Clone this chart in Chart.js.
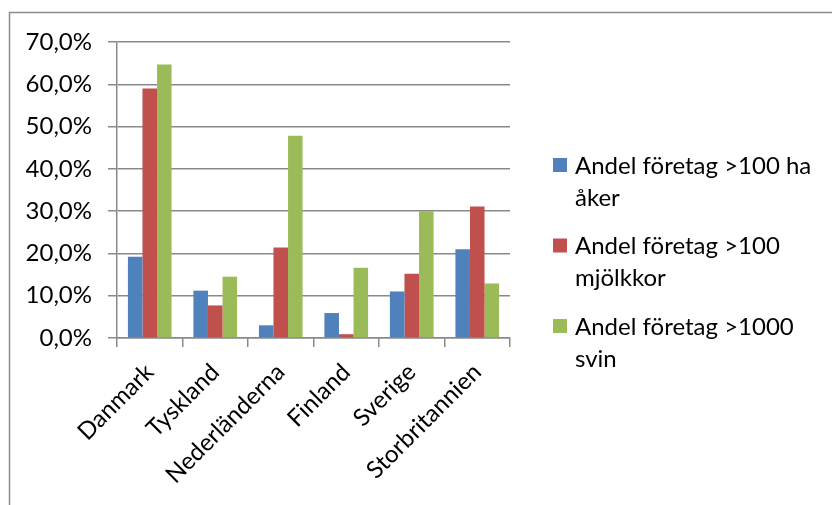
<!DOCTYPE html>
<html>
<head>
<meta charset="utf-8">
<script src="https://cdn.jsdelivr.net/npm/chart.js@4/dist/chart.umd.min.js"></script>
<style>
  html, body { margin: 0; padding: 0; background: #fff; }
  #wrap { width: 832px; height: 505px; }
</style>
</head>
<body>
<div id="wrap"><canvas id="myChart"></canvas></div>
<script>
const countries = ['Danmark', 'Tyskland', 'Nederländerna', 'Finland', 'Sverige', 'Storbritannien'];
const akerShare = [19.2, 11.2, 3.0, 5.9, 11.0, 21.0];
const mjolkShare = [59.0, 7.7, 21.4, 0.9, 15.2, 31.1];
const svinShare = [64.7, 14.5, 47.8, 16.6, 30.0, 12.9];
const seriesNames = [
    ['Andel företag >100 ha', 'åker'],
    ['Andel företag >100', 'mjölkkor'],
    ['Andel företag >1000', 'svin']
];
const yTicks = [0, 10, 20, 30, 40, 50, 60, 70];

const gridc = '#898989';
const font = 'Lato';

// frame round the whole chart, like the Excel chart area
const framePlugin = {
    id: 'frame',
    beforeDraw(chart) {
        const c = chart.ctx;
        c.save();
        c.strokeStyle = '#8c8c8c';
        c.lineWidth = 1.5;
        c.strokeRect(9.5, 12.5, 1000, 1000);
        c.restore();
    }
};

// legend with wrapped labels on the right
const sideLegend = {
    id: 'sideLegend',
    afterDraw(chart) {
        const c = chart.ctx;
        c.save();
        c.font = '24px ' + font;
        c.textBaseline = 'middle';
        chart.data.datasets.forEach((ds, i) => {
            const y = 165 + i * 80.5;
            c.fillStyle = ds.backgroundColor;
            c.fillRect(553, y - 7, 14, 14);
            c.fillStyle = '#000';
            ds.label.forEach((line, j) => {
                c.fillText(line, 575, y + 1 + j * 32);
            });
        });
        c.restore();
    }
};

new Chart(document.getElementById('myChart'), {
    type: 'bar',
    data: {
        labels: countries,
        datasets: [
            { label: seriesNames[0], data: akerShare, backgroundColor: '#4F81BD' },
            { label: seriesNames[1], data: mjolkShare, backgroundColor: '#C0504D' },
            { label: seriesNames[2], data: svinShare, backgroundColor: '#9BBB59' }
        ]
    },
    plugins: [framePlugin, sideLegend],
    options: {
        responsive: true,
        maintainAspectRatio: false,
        animation: false,
        layout: { padding: { left: 0, right: 322, top: 42, bottom: 0 } },
        datasets: {
            bar: { categoryPercentage: 0.667, barPercentage: 1.0 }
        },
        scales: {
            x: {
                grid: {
                    offset: true,
                    drawOnChartArea: false,
                    color: gridc,
                    lineWidth: 1.5,
                    tickLength: 9
                },
                border: { color: gridc, width: 1.5 },
                ticks: {
                    color: '#000',
                    minRotation: 45,
                    maxRotation: 45,
                    padding: 11,
                    font: { family: font, size: 24 }
                },
                afterFit(scale) { scale.height = 167; }
            },
            y: {
                min: 0,
                max: 70,
                afterBuildTicks(scale) {
                    scale.ticks = yTicks.map(v => ({ value: v }));
                },
                grid: {
                    color: gridc,
                    lineWidth: 1.5,
                    tickLength: 9
                },
                border: { color: gridc, width: 1.5 },
                ticks: {
                    color: '#000',
                    padding: 16,
                    font: { family: font, size: 24 },
                    callback: v => v.toFixed(1).replace('.', ',') + '%'
                },
                afterFit(scale) { scale.width = 117; }
            }
        },
        plugins: {
            legend: { display: false },
            tooltip: { enabled: false }
        }
    }
});
</script>
</body>
</html>
